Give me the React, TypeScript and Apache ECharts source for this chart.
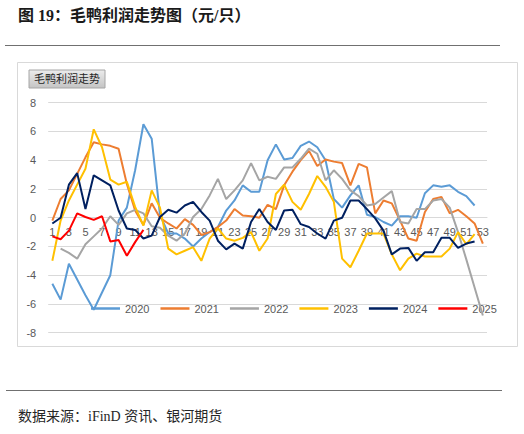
import React, { useEffect, useRef } from 'react';
import * as echarts from 'echarts';

// weeks 1..53
const weeks: string[] = Array.from({ length: 53 }, (_, i) => String(i + 1));

const years = ['2020', '2021', '2022', '2023', '2024', '2025'];
const colors = ['#5B9BD5', '#ED7D31', '#A5A5A5', '#FFC000', '#002060', '#FF0000'];

const y2020 = [
    -4.6, -5.7, -3.2, -4.3, -5.4, -6.4, -5.2, -4.0, -0.2, 0.7,
    3.3, 6.5, 5.5, 0.2, -1.1, -1.1, -1.45, -2.0, -1.45, -1.0,
    -0.65, 0.5, 1.2, 2.25, 1.8, 1.8, 4.0, 5.1, 4.05, 4.15,
    5.0, 5.3, 4.9, 4.0, 1.3, 0.7, 1.55, 2.25, 0.2, 0.05,
    -0.3, -0.55, 0.1, 0.1, 0.0, 1.7, 2.25, 2.15, 2.25, 1.8,
    1.5, 0.85, null
];
const y2021 = [
    -0.2, 1.3, 1.9, 3.05, 4.2, 5.25, 5.1, 5.0, 4.8, 2.35,
    0.5, -0.5, 1.0, 0.0, -0.4, -0.75, -0.1, -0.5, -1.2, -1.0,
    -0.65, -0.2, 0.6, 0.15, 0.1, 0.0, 0.9, 0.6, 2.25, 3.2,
    4.0, 4.65, 3.6, 4.05, 3.9, 3.8, 2.25, 3.75, 3.5, 0.3,
    1.2, 1.0, -0.2, -1.45, -1.6, 0.4, 1.3, 1.45, 0.3, 0.55,
    0.1, -0.4, -1.8
];
const y2022 = [
    null, -2.15, -2.45, -2.85, -1.85, -1.3, -0.75, 0.1, -0.5, 0.3,
    0.55, 0.3, -0.6, -0.7, -1.25, -1.6, -1.1, 0.05, 0.6, 1.55,
    2.7, 1.3, 1.9, 2.6, 3.8, 2.6, 2.85, 2.7, 3.5, 3.5,
    4.1, 4.8, 4.45, 2.6, 3.3, 2.7, 1.9, 1.5, 0.85, 0.95,
    1.4, 1.85, -0.3, -0.4, 0.6, 0.6, 1.2, 1.3, 0.7, -1.0,
    -2.9, -4.85, -6.8
];
const y2023 = [
    -3.0, -0.2, 1.2, 2.3, 3.4, 6.15, 4.9, 2.65, 2.3, 2.5,
    0.75, -0.55, 1.9, 0.7, -2.15, -2.55, -2.3, -2.05, -3.0, -1.45,
    -0.75, -1.45, -1.6, -1.4, -1.0, -2.3, -1.45, 1.65, 2.3, 1.1,
    0.55, 1.65, 2.9, 2.15, 1.1, -2.85, -3.45, -2.3, -1.1, -1.1,
    -1.1, -2.55, -3.65, -2.85, -2.5, -2.7, -2.7, -2.7, -2.15, -1.0,
    -1.85, -1.15, null
];
const y2024 = [
    -0.4, 0.0, 2.3, 3.1, 0.6, 2.95, 2.6, 2.25, 0.5, -0.75,
    -0.85, -1.45, -1.25, 0.05, 0.55, 0.35, 0.85, 1.1, 0.4, -0.2,
    -1.6, -2.2, -1.8, -2.15, -0.3, 0.6, -0.3, -0.85, 0.5, 0.55,
    -0.45, -0.65, -1.1, -1.45, -0.2, 0.0, 1.2, 1.2, 0.6, -0.05,
    -0.9, -2.55, -2.15, -2.1, -3.0, -2.4, -2.4, -1.4, -1.4, -2.1,
    -1.8, -1.65, null
];
const y2025 = [
    -1.3, -1.5, -0.9, 0.3, 0.05, -0.15, 0.1, -1.65, -1.55, -2.65,
    -1.7, -0.85
];

const yearData = [y2020, y2021, y2022, y2023, y2024, y2025];

const yMin = -8;
const yMax = 8;
const yStep = 2;

const titleText = '图 19：毛鸭利润走势图（元/只）';
const badgeText = '毛鸭利润走势';
const sourceText = '数据来源：iFinD 资讯、银河期货';

const sans = '"Liberation Sans", Arial, "Noto Sans CJK SC", sans-serif';
const serif = '"Liberation Serif", "Noto Sans CJK SC", serif';

const gridTop = 102.7;
const gridHeight = 230;

const ProfitChart: React.FC<{ width?: number; height?: number }> = ({ width = 524, height = 434 }) => {
    const chartRef = useRef<HTMLDivElement>(null);

    useEffect(() => {
        if (!chartRef.current) return;

        const myChart = echarts.init(chartRef.current, null, { renderer: 'svg' });

        // x axis sits on the zero line, so lift it from the bottom of the grid
        const zeroOffset = -gridHeight * (0 - yMin) / (yMax - yMin);

        const option: echarts.EChartsOption = {
            animation: false,
            backgroundColor: '#ffffff',
            color: colors,
            graphic: [
                {
                    type: 'text',
                    left: 18,
                    top: 7,
                    style: {
                        text: titleText,
                        fill: '#1a1a1a',
                        font: `bold 16px ${serif}`
                    }
                },
                {
                    type: 'line',
                    shape: { x1: 5, y1: 45.5, x2: 500, y2: 45.5 },
                    style: { stroke: '#707070', lineWidth: 1 }
                },
                {
                    type: 'rect',
                    shape: { x: 17.5, y: 62.5, width: 500, height: 284 },
                    style: { fill: 'none', stroke: '#d9d9d9', lineWidth: 1 }
                },
                {
                    type: 'rect',
                    shape: { x: 29, y: 70, width: 76, height: 18 },
                    style: {
                        fill: new echarts.graphic.LinearGradient(0, 0, 0, 1, [
                            { offset: 0, color: '#ececec' },
                            { offset: 1, color: '#c4c4c4' }
                        ]),
                        stroke: '#a6a6a6',
                        lineWidth: 1
                    }
                },
                {
                    type: 'text',
                    x: 67,
                    y: 79,
                    style: {
                        text: badgeText,
                        fill: '#262626',
                        font: `11px ${sans}`,
                        align: 'center',
                        verticalAlign: 'middle'
                    }
                },
                {
                    type: 'line',
                    shape: { x1: 6, y1: 390.5, x2: 502, y2: 390.5 },
                    style: { stroke: '#707070', lineWidth: 1 }
                },
                {
                    type: 'text',
                    left: 18,
                    top: 409,
                    style: {
                        text: sourceText,
                        fill: '#262626',
                        font: `14px ${serif}`
                    }
                }
            ],
            legend: {
                left: 86,
                top: 298,
                z: 1,
                icon: 'rect',
                itemWidth: 29,
                itemHeight: 2.5,
                itemGap: 11,
                data: years,
                textStyle: {
                    color: '#595959',
                    fontSize: 11,
                    fontFamily: sans
                }
            },
            grid: {
                left: 48.2,
                top: gridTop,
                width: 438.8,
                height: gridHeight,
                containLabel: false
            },
            xAxis: {
                type: 'category',
                data: weeks,
                boundaryGap: true,
                position: 'bottom',
                offset: zeroOffset,
                axisLine: { onZero: false, lineStyle: { color: '#d9d9d9', width: 1 } },
                axisTick: { show: false },
                axisLabel: {
                    interval: 1,
                    color: '#595959',
                    fontSize: 11,
                    fontFamily: sans,
                    margin: 9
                },
                splitLine: { show: false }
            },
            yAxis: {
                type: 'value',
                min: yMin,
                max: yMax,
                interval: yStep,
                axisLine: { show: false },
                axisTick: { show: false },
                axisLabel: {
                    color: '#595959',
                    fontSize: 11,
                    fontFamily: sans,
                    margin: 12
                },
                splitLine: { lineStyle: { color: '#d9d9d9', width: 1 } }
            },
            series: years.map((name, i) => ({
                name,
                type: 'line',
                data: yearData[i],
                symbol: 'none',
                showSymbol: false,
                connectNulls: false,
                z: 3,
                lineStyle: { width: 2, color: colors[i] },
                itemStyle: { color: colors[i] }
            }))
        };

        myChart.setOption(option);

        return () => {
            myChart.dispose();
        };
    }, []);

    return (
        <div
            ref={chartRef}
            style={{
                position: 'fixed',
                left: 0,
                top: 0,
                width: `${width}px`,
                height: `${height}px`
            }}
        />
    );
};

const App: React.FC = () => <ProfitChart />;

export default App;
